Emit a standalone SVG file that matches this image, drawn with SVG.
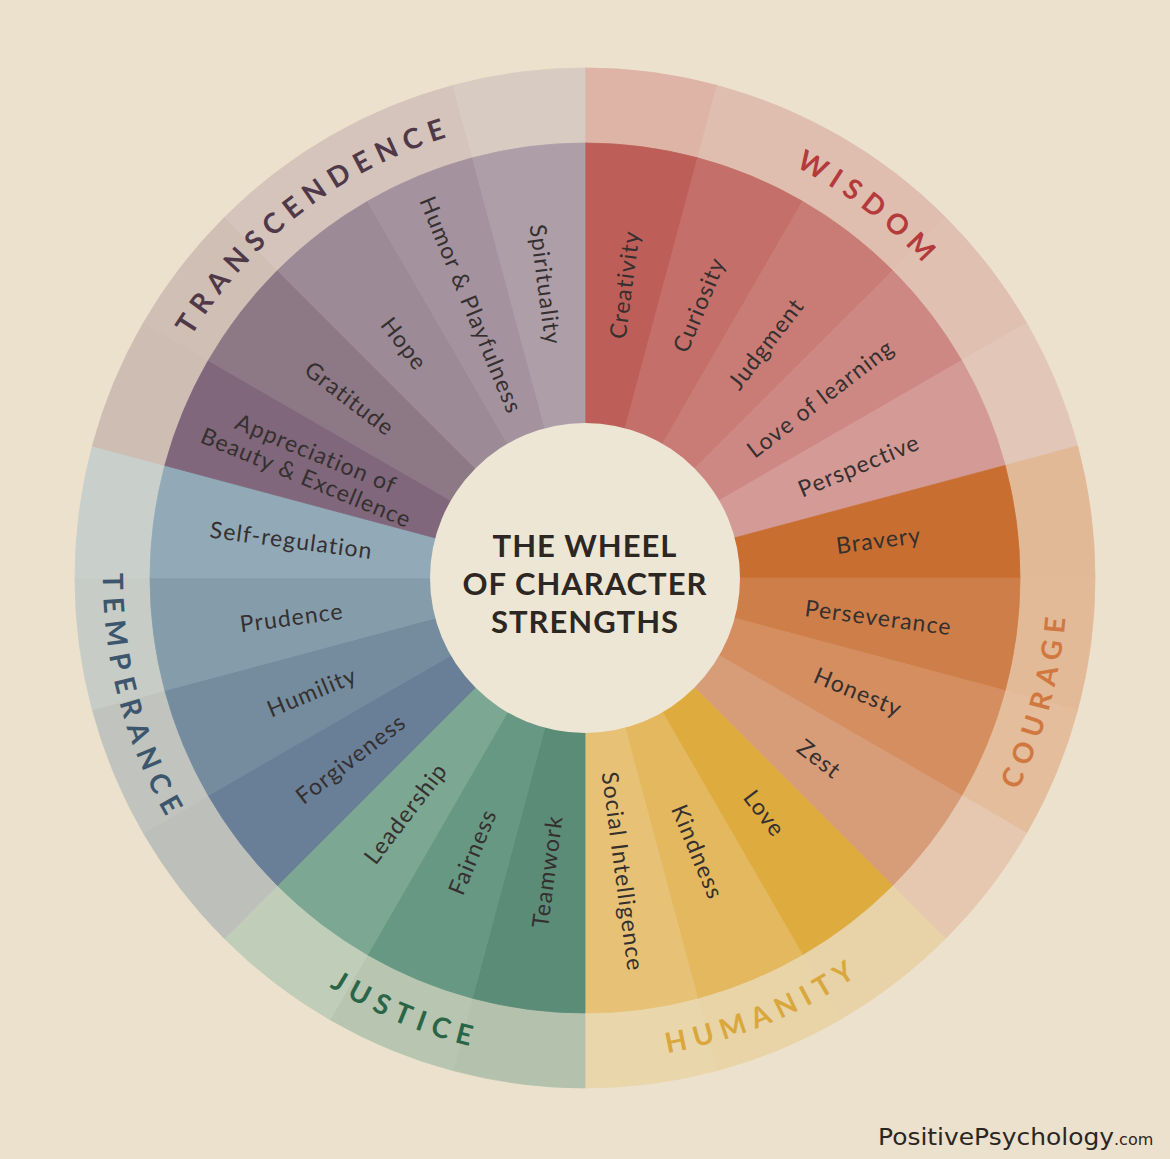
<svg xmlns="http://www.w3.org/2000/svg" width="1170" height="1159" viewBox="0 0 1170 1159">
<style>
.seg{stroke-width:0.8}
.s{font-family:Lato,"Open Sans",sans-serif;font-size:23px;letter-spacing:1.1px;fill:#35302F;text-anchor:middle;dominant-baseline:central}
.c{font-family:Lato,"Open Sans",sans-serif;font-size:28px;font-weight:700;letter-spacing:7.5px;text-anchor:middle}
.t{font-family:Lato,"Open Sans",sans-serif;font-size:31px;font-weight:700;letter-spacing:1px;fill:#2C2723;text-anchor:middle}
</style>
<defs>
<path id="pW" d="M585,116 A462,462 0 0 1 1031.3,458.4"/>
<path id="pTr" d="M138.7,458.4 A462,462 0 0 1 585,116"/>
<path id="pC" d="M925.8,918.8 A482,482 0 0 0 1050.6,453.2"/>
<path id="pH" d="M585,1060 A482,482 0 0 0 925.8,918.8"/>
<path id="pJ" d="M244.2,918.8 A482,482 0 0 0 585,1060"/>
<path id="pTe" d="M119.4,453.2 A482,482 0 0 0 244.2,918.8"/>
</defs>
<rect width="1170" height="1159" fill="#EBE1CD"/>

<g id="outer-ring">
<path class="seg" fill="#DDB4A5" stroke="#DDB4A5" d="M585,578 L585,68 A510,510 0 0 1 717,85.38 Z"/>
<path class="seg" fill="#DFBEAF" stroke="#DFBEAF" d="M585,578 L717,85.38 A510,510 0 0 1 840,136.33 Z"/>
<path class="seg" fill="#DFBEAF" stroke="#DFBEAF" d="M585,578 L840,136.33 A510,510 0 0 1 945.62,217.38 Z"/>
<path class="seg" fill="#E0C0B1" stroke="#E0C0B1" d="M585,578 L945.62,217.38 A510,510 0 0 1 1026.67,323 Z"/>
<path class="seg" fill="#E2C6B7" stroke="#E2C6B7" d="M585,578 L1026.67,323 A510,510 0 0 1 1077.62,446 Z"/>
<path class="seg" fill="#E2B996" stroke="#E2B996" d="M585,578 L1077.62,446 A510,510 0 0 1 1095,578 Z"/>
<path class="seg" fill="#E3BA98" stroke="#E3BA98" d="M585,578 L1095,578 A510,510 0 0 1 1077.62,710 Z"/>
<path class="seg" fill="#E4BD9C" stroke="#E4BD9C" d="M585,578 L1077.62,710 A510,510 0 0 1 1026.67,833 Z"/>
<path class="seg" fill="#E6C8B0" stroke="#E6C8B0" d="M585,578 L1026.67,833 A510,510 0 0 1 945.62,938.62 Z"/>
<path class="seg" fill="#E8D3A8" stroke="#E8D3A8" d="M585,578 L945.62,938.62 A510,510 0 0 1 840,1019.67 Z"/>
<path class="seg" fill="#E8D4A6" stroke="#E8D4A6" d="M585,578 L840,1019.67 A510,510 0 0 1 717,1070.62 Z"/>
<path class="seg" fill="#E9D6AB" stroke="#E9D6AB" d="M585,578 L717,1070.62 A510,510 0 0 1 585,1088 Z"/>
<path class="seg" fill="#B4C2AD" stroke="#B4C2AD" d="M585,578 L585,1088 A510,510 0 0 1 453,1070.62 Z"/>
<path class="seg" fill="#B8C6B1" stroke="#B8C6B1" d="M585,578 L453,1070.62 A510,510 0 0 1 330,1019.67 Z"/>
<path class="seg" fill="#C0CDB9" stroke="#C0CDB9" d="M585,578 L330,1019.67 A510,510 0 0 1 224.38,938.62 Z"/>
<path class="seg" fill="#BDC0BA" stroke="#BDC0BA" d="M585,578 L224.38,938.62 A510,510 0 0 1 143.33,833 Z"/>
<path class="seg" fill="#C1C4BE" stroke="#C1C4BE" d="M585,578 L143.33,833 A510,510 0 0 1 92.38,710 Z"/>
<path class="seg" fill="#C7CCC7" stroke="#C7CCC7" d="M585,578 L92.38,710 A510,510 0 0 1 75,578 Z"/>
<path class="seg" fill="#C9CFCB" stroke="#C9CFCB" d="M585,578 L75,578 A510,510 0 0 1 92.38,446 Z"/>
<path class="seg" fill="#CDBDB3" stroke="#CDBDB3" d="M585,578 L92.38,446 A510,510 0 0 1 143.33,323 Z"/>
<path class="seg" fill="#CFBFB5" stroke="#CFBFB5" d="M585,578 L143.33,323 A510,510 0 0 1 224.38,217.38 Z"/>
<path class="seg" fill="#D4C4BB" stroke="#D4C4BB" d="M585,578 L224.38,217.38 A510,510 0 0 1 330,136.33 Z"/>
<path class="seg" fill="#D4C4BB" stroke="#D4C4BB" d="M585,578 L330,136.33 A510,510 0 0 1 453,85.38 Z"/>
<path class="seg" fill="#D8CBC1" stroke="#D8CBC1" d="M585,578 L453,85.38 A510,510 0 0 1 585,68 Z"/>
</g>

<g id="node-creativity"><path class="seg" fill="#BD5F58" stroke="#BD5F58" d="M585,578 L585,143 A435,435 0 0 1 697.59,157.82 Z"/><text class="s" x="881" y="578" transform="rotate(-82.5 585 578)">Creativity</text></g>
<g id="node-curiosity"><path class="seg" fill="#C46F69" stroke="#C46F69" d="M585,578 L697.59,157.82 A435,435 0 0 1 802.5,201.28 Z"/><text class="s" x="881" y="578" transform="rotate(-67.5 585 578)">Curiosity</text></g>
<g id="node-judgment"><path class="seg" fill="#C97C76" stroke="#C97C76" d="M585,578 L802.5,201.28 A435,435 0 0 1 892.59,270.41 Z"/><text class="s" x="881" y="578" transform="rotate(-52.5 585 578)">Judgment</text></g>
<g id="node-love-of-learning"><path class="seg" fill="#CE8883" stroke="#CE8883" d="M585,578 L892.59,270.41 A435,435 0 0 1 961.72,360.5 Z"/><text class="s" x="881" y="578" transform="rotate(-37.5 585 578)">Love of learning</text></g>
<g id="node-perspective"><path class="seg" fill="#D49A96" stroke="#D49A96" d="M585,578 L961.72,360.5 A435,435 0 0 1 1005.18,465.41 Z"/><text class="s" x="881" y="578" transform="rotate(-22.5 585 578)">Perspective</text></g>
<g id="node-bravery"><path class="seg" fill="#C86E31" stroke="#C86E31" d="M585,578 L1005.18,465.41 A435,435 0 0 1 1020,578 Z"/><text class="s" x="881" y="578" transform="rotate(-7.5 585 578)">Bravery</text></g>
<g id="node-perseverance"><path class="seg" fill="#CE7F49" stroke="#CE7F49" d="M585,578 L1020,578 A435,435 0 0 1 1005.18,690.59 Z"/><text class="s" x="881" y="578" transform="rotate(7.5 585 578)">Perseverance</text></g>
<g id="node-honesty"><path class="seg" fill="#D48E60" stroke="#D48E60" d="M585,578 L1005.18,690.59 A435,435 0 0 1 961.72,795.5 Z"/><text class="s" x="881" y="578" transform="rotate(22.5 585 578)">Honesty</text></g>
<g id="node-zest"><path class="seg" fill="#D79C78" stroke="#D79C78" d="M585,578 L961.72,795.5 A435,435 0 0 1 892.59,885.59 Z"/><text class="s" x="881" y="578" transform="rotate(37.5 585 578)">Zest</text></g>
<g id="node-love"><path class="seg" fill="#DEAC3E" stroke="#DEAC3E" d="M585,578 L892.59,885.59 A435,435 0 0 1 802.5,954.72 Z"/><text class="s" x="881" y="578" transform="rotate(52.5 585 578)">Love</text></g>
<g id="node-kindness"><path class="seg" fill="#E3B85E" stroke="#E3B85E" d="M585,578 L802.5,954.72 A435,435 0 0 1 697.59,998.18 Z"/><text class="s" x="881" y="578" transform="rotate(67.5 585 578)">Kindness</text></g>
<g id="node-social-intelligence"><path class="seg" fill="#E7C276" stroke="#E7C276" d="M585,578 L697.59,998.18 A435,435 0 0 1 585,1013 Z"/><text class="s" x="881" y="578" transform="rotate(82.5 585 578)">Social Intelligence</text></g>
<g id="node-teamwork"><path class="seg" fill="#5A8C77" stroke="#5A8C77" d="M585,578 L585,1013 A435,435 0 0 1 472.41,998.18 Z"/><text class="s" x="289" y="578" transform="rotate(-82.5 585 578)">Teamwork</text></g>
<g id="node-fairness"><path class="seg" fill="#679883" stroke="#679883" d="M585,578 L472.41,998.18 A435,435 0 0 1 367.5,954.72 Z"/><text class="s" x="289" y="578" transform="rotate(-67.5 585 578)">Fairness</text></g>
<g id="node-leadership"><path class="seg" fill="#7CA792" stroke="#7CA792" d="M585,578 L367.5,954.72 A435,435 0 0 1 277.41,885.59 Z"/><text class="s" x="289" y="578" transform="rotate(-52.5 585 578)">Leadership</text></g>
<g id="node-forgiveness"><path class="seg" fill="#697F97" stroke="#697F97" d="M585,578 L277.41,885.59 A435,435 0 0 1 208.28,795.5 Z"/><text class="s" x="289" y="578" transform="rotate(-37.5 585 578)">Forgiveness</text></g>
<g id="node-humility"><path class="seg" fill="#748C9E" stroke="#748C9E" d="M585,578 L208.28,795.5 A435,435 0 0 1 164.82,690.59 Z"/><text class="s" x="289" y="578" transform="rotate(-22.5 585 578)">Humility</text></g>
<g id="node-prudence"><path class="seg" fill="#859DAB" stroke="#859DAB" d="M585,578 L164.82,690.59 A435,435 0 0 1 150,578 Z"/><text class="s" x="289" y="578" transform="rotate(-7.5 585 578)">Prudence</text></g>
<g id="node-self-regulation"><path class="seg" fill="#92A9B7" stroke="#92A9B7" d="M585,578 L150,578 A435,435 0 0 1 164.82,465.41 Z"/><text class="s" x="289" y="578" transform="rotate(7.5 585 578)">Self-regulation</text></g>
<g id="node-appreciation"><path class="seg" fill="#80677B" stroke="#80677B" d="M585,578 L164.82,465.41 A435,435 0 0 1 208.28,360.5 Z"/><text class="s" transform="rotate(22.5 585 578)"><tspan x="289" y="565">Appreciation of</tspan><tspan x="289" y="591">Beauty &amp; Excellence</tspan></text></g>
<g id="node-gratitude"><path class="seg" fill="#8D7886" stroke="#8D7886" d="M585,578 L208.28,360.5 A435,435 0 0 1 277.41,270.41 Z"/><text class="s" x="289" y="578" transform="rotate(37.5 585 578)">Gratitude</text></g>
<g id="node-hope"><path class="seg" fill="#9C8A97" stroke="#9C8A97" d="M585,578 L277.41,270.41 A435,435 0 0 1 367.5,201.28 Z"/><text class="s" x="289" y="578" transform="rotate(52.5 585 578)">Hope</text></g>
<g id="node-humor"><path class="seg" fill="#A4939F" stroke="#A4939F" d="M585,578 L367.5,201.28 A435,435 0 0 1 472.41,157.82 Z"/><text class="s" x="289" y="578" transform="rotate(67.5 585 578)">Humor &amp; Playfulness</text></g>
<g id="node-spirituality"><path class="seg" fill="#AD9EA8" stroke="#AD9EA8" d="M585,578 L472.41,157.82 A435,435 0 0 1 585,143 Z"/><text class="s" x="289" y="578" transform="rotate(82.5 585 578)">Spirituality</text></g>

<g id="category-labels">
<text class="c" fill="#B43A3C"><textPath href="#pW" startOffset="50%">WISDOM</textPath></text>
<text class="c" fill="#4F3848"><textPath href="#pTr" startOffset="50%">TRANSCENDENCE</textPath></text>
<text class="c" fill="#D0783F"><textPath href="#pC" startOffset="50%">COURAGE</textPath></text>
<text class="c" fill="#D9A73C"><textPath href="#pH" startOffset="50%">HUMANITY</textPath></text>
<text class="c" fill="#2B6548"><textPath href="#pJ" startOffset="50%">JUSTICE</textPath></text>
<text class="c" fill="#3C566E"><textPath href="#pTe" startOffset="50%">TEMPERANCE</textPath></text>
</g>

<g id="center">
<circle cx="585" cy="578" r="155" fill="#EEE6D5"/>
<text class="t" x="585" y="557">THE WHEEL</text>
<text class="t" x="585" y="595">OF CHARACTER</text>
<text class="t" x="585" y="633">STRENGTHS</text>
</g>

<g id="connectors"></g>

<g id="footer">
<text x="878" y="1145" font-family="'DejaVu Sans',sans-serif" font-size="23" fill="#2B2622"><tspan textLength="236" lengthAdjust="spacingAndGlyphs">PositivePsychology</tspan><tspan font-size="16">.com</tspan></text>
</g>
</svg>
